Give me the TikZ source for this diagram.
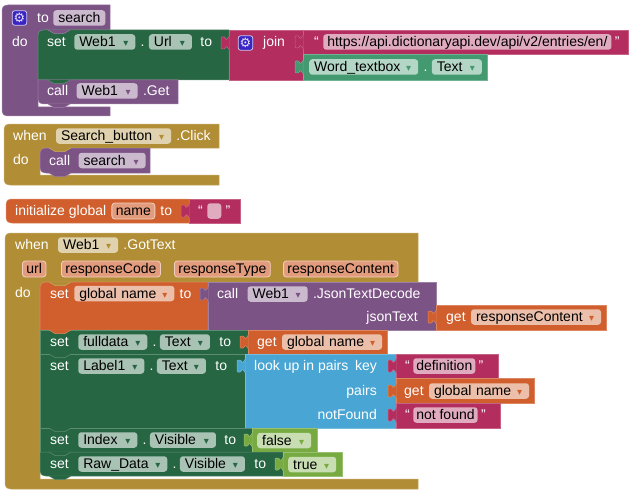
\documentclass[tikz,border=0pt]{standalone}
\usepackage{fontspec}
\usepackage{tikz}
\usetikzlibrary{positioning}
\setmainfont{Liberation Sans}
\newfontfamily\symfont{DejaVu Sans}
\definecolor{ProcPurple}{HTML}{7C5385}
\definecolor{SetGreen}{HTML}{266643}
\definecolor{GetTeal}{HTML}{439970}
\definecolor{TextPink}{HTML}{B32D5E}
\definecolor{CtrlGold}{HTML}{B18E35}
\definecolor{VarOrange}{HTML}{D05F2D}
\definecolor{ListBlue}{HTML}{49A6D4}
\definecolor{LogicLime}{HTML}{77AB41}
\definecolor{GearBlue}{HTML}{3A24C4}
\newcommand{\ddn}{\hfill{\color{ddncol}\symfont\fontsize{10}{10}\selectfont ▾}\hspace*{2pt}}
\newcommand{\jack}[3]{\draw[blk=#3,rounded corners=1pt,shift={(#1,#2)}] (0.5,-8) -- (0,-6) -- (-3,-3) -- (-4,-6) -- (-8,-6) -- (-8,6) -- (-4,6) -- (-3,3) -- (0,6) -- (0.5,8);}
\newcommand{\notch}[3]{\draw[blk=#3,shift={(#1,#2)}] (0,0) -- (6,3.5) -- (16,3.5) -- (22,0);}
\begin{document}
\begin{tikzpicture}[
      x=1pt,y=-1pt,
      font=\fontsize{14}{16}\selectfont,
      blk/.style={fill=#1,draw=#1!75!white,line width=0.5pt},
      lbl/.style={anchor=west,text=white,inner sep=0pt,text height=11.5pt,text depth=2.5pt},
      fld/.style={anchor=west,fill=#1!40!white,text=black,rounded corners=3pt,inner xsep=5pt,inner ysep=0pt,minimum height=15.5pt,text height=11.5pt,text depth=2.5pt,execute at begin node={\colorlet{ddncol}{#1}}},
      fw/.style={text width=#1pt-10pt},
      arg/.style={anchor=west,fill=VarOrange!62!white,draw=VarOrange!30!white,line width=0.8pt,text=black,rounded corners=3pt,inner xsep=4pt,inner ysep=0pt,minimum height=16pt,text height=11.5pt,text depth=2.5pt},
      gear/.style={fill=GearBlue,draw=white!75!GearBlue,line width=0.8pt,rounded corners=2.5pt,minimum size=14.5pt,inner sep=0pt,text=white!85!GearBlue,font=\symfont\fontsize{13}{13}\selectfont}
    ]
      \useasboundingbox (0,0) rectangle (639,500);
      % to search
      \draw[blk=ProcPurple] (110,5) -- (110,30) -- (43,30) .. controls (40,30) and (38,32) .. (38,35) -- (38,107) -- (110,107) -- (110,116) -- (8,116) .. controls (4,116) and (2,114) .. (2,110) -- (2,11) .. controls (2,7) and (4,5) .. (8,5) -- cycle;
      \draw[blk=SetGreen] (229,30) -- (43,30) .. controls (40,30) and (38,32) .. (38,35) -- (38,80) -- (229,80) -- cycle;
      \draw[blk=ProcPurple] (178,80) -- (38,80) -- (38,98) .. controls (38,102) and (40,104) .. (44,104) -- (178,104) -- cycle;
      \notch{48}{104}{ProcPurple}
      \notch{48}{80}{SetGreen}
      \notch{48}{30}{ProcPurple}
      \draw[blk=TextPink] (229,30) rectangle (303,80);
      \draw[blk=TextPink] (303,30) rectangle (628,54.5);
      \draw[blk=GetTeal] (303,54.5) rectangle (487,80);
      \jack{229}{43}{TextPink}
      \jack{303}{42}{TextPink}
      \jack{303}{67}{GetTeal}
      \node[gear] (procgear) at (19.5,18) {⚙};
      \node[lbl] (tolbl) at (37,18) {to};
      \node[fld=ProcPurple,right=4pt of tolbl] (procname) {search};
      \node[lbl] (dolbl) at (12,42) {do};
      \node[lbl] (setlbl) at (47,42) {set};
      \node[fld=SetGreen,fw=61,right=8pt of setlbl] (webfld) {Web1\ddn};
      \node[lbl,right=5pt of webfld] (webdot) {.};
      \node[fld=SetGreen,fw=43,right=4pt of webdot] (urlfld) {Url\ddn};
      \node[lbl,right=8pt of urlfld] (urlto) {to};
      \node[gear] (joingear) at (245.5,43) {⚙};
      \node[lbl] (joinlbl) at (263,42) {join};
      \node[lbl] (urlopen) at (314,42) {“};
      \node[fld=TextPink,inner xsep=4pt,right=4pt of urlopen] (urlstr) {https://api.dictionaryapi.dev/api/v2/entries/en/};
      \node[lbl,right=3pt of urlstr] (urlclose) {”};
      \node[fld=GetTeal,fw=109] (wordfld) at (309,67) {Word\_textbox\ddn};
      \node[lbl,right=5pt of wordfld] (worddot) {.};
      \node[fld=GetTeal,fw=50,right=4pt of worddot] (wordtext) {Text\ddn};
      \node[lbl] (calllbl) at (47,91) {call};
      \node[fld=ProcPurple,fw=61,right=8pt of calllbl] (callfld) {Web1\ddn};
      \node[lbl,right=5pt of callfld] (getlbl) {.Get};
      % when search button
      \draw[blk=CtrlGold] (219,124) -- (219,148) -- (45,148) .. controls (42,148) and (40,150) .. (40,153) -- (40,175) -- (219,175) -- (219,185) -- (10,185) .. controls (6,185) and (4,183) .. (4,179) -- (4,130) .. controls (4,126) and (6,124) .. (10,124) -- cycle;
      \draw[blk=ProcPurple] (150,148) -- (45,148) .. controls (42,148) and (40,150) .. (40,153) -- (40,167) .. controls (40,171) and (42,173) .. (46,173) -- (150,173) -- cycle;
      \notch{49}{173}{ProcPurple}
      \notch{49}{148}{CtrlGold}
      \node[lbl] (whenlbl) at (13,136) {when};
      \node[fld=CtrlGold,fw=115,right=9pt of whenlbl] (btnfld) {Search\_button\ddn};
      \node[lbl,right=5pt of btnfld] (clicklbl) {.Click};
      \node[lbl] (do2lbl) at (13,160) {do};
      \node[lbl] (call2lbl) at (49,160.5) {call};
      \node[fld=ProcPurple,fw=67,right=8pt of call2lbl] (searchfld) {search\ddn};
      % initialize global
      \draw[blk=VarOrange] (189,199) -- (189,223) -- (12,223) .. controls (8,223) and (6,221) .. (6,217) -- (6,205) .. controls (6,201) and (8,199) .. (12,199) -- cycle;
      \draw[blk=TextPink] (189,199) rectangle (240,223);
      \jack{189}{211}{TextPink}
      \node[lbl] (initlbl) at (15,211) {initialize global};
      \node[arg,right=5pt of initlbl] (namefld) {name};
      \node[lbl,right=5pt of namefld] (initto) {to};
      \node[lbl] (emptyopen) at (198,211) {“};
      \node[fld=TextPink,fw=14,right=4pt of emptyopen] (emptystr) {};
      \node[lbl,right=4pt of emptystr] (emptyclose) {”};
      % when web1 gottext
      \draw[blk=CtrlGold] (418,233) -- (418,282) -- (45,282) .. controls (42,282) and (40,284) .. (40,287) -- (40,479) -- (418,479) -- (418,489) -- (11,489) .. controls (7,489) and (5,487) .. (5,483) -- (5,239) .. controls (5,235) and (7,233) .. (11,233) -- cycle;
      \draw[blk=VarOrange] (208,282) -- (45,282) .. controls (42,282) and (40,284) .. (40,287) -- (40,330) -- (208,330) -- cycle;
      \draw[blk=ProcPurple] (208,282) rectangle (436,330);
      \draw[blk=VarOrange] (436,305) rectangle (606,330);
      \draw[blk=SetGreen] (40,330) rectangle (248,354);
      \draw[blk=VarOrange] (248,330) rectangle (387,354);
      \draw[blk=SetGreen] (40,354) rectangle (245,428);
      \draw[blk=ListBlue] (245,354) rectangle (396,428);
      \draw[blk=TextPink] (396,354) rectangle (498,378.5);
      \draw[blk=VarOrange] (396,378.5) rectangle (534,403.5);
      \draw[blk=TextPink] (396,403.5) rectangle (500,428);
      \draw[blk=SetGreen] (40,428) rectangle (252,452);
      \draw[blk=LogicLime] (252,428) rectangle (317,452);
      \draw[blk=SetGreen] (283,452) -- (40,452) -- (40,470) .. controls (40,474) and (42,476) .. (46,476) -- (283,476) -- cycle;
      \draw[blk=LogicLime] (283,452) rectangle (342,476);
      \notch{49}{476}{SetGreen}
      \notch{49}{452}{SetGreen}
      \notch{49}{428}{SetGreen}
      \notch{49}{354}{SetGreen}
      \notch{49}{330}{VarOrange}
      \notch{49}{282}{CtrlGold}
      \jack{208}{294}{ProcPurple}
      \jack{436}{317}{VarOrange}
      \jack{248}{342}{VarOrange}
      \jack{245}{366}{ListBlue}
      \jack{396}{366}{TextPink}
      \jack{396}{391}{VarOrange}
      \jack{396}{415}{TextPink}
      \jack{252}{440}{LogicLime}
      \jack{283}{464}{LogicLime}
      \node[lbl] (when3lbl) at (15,245) {when};
      \node[fld=CtrlGold,fw=60,right=9pt of when3lbl] (web3fld) {Web1\ddn};
      \node[lbl,right=5pt of web3fld] (gottext) {.GotText};
      \node[arg] (urlarg) at (22,269) {url};
      \node[arg] (codearg) at (61,269) {responseCode};
      \node[arg] (typearg) at (174,269) {responseType};
      \node[arg] (contentarg) at (283,269) {responseContent};
      \node[lbl] (do3lbl) at (15,293) {do};
      \node[lbl] (setglobal) at (50,293.5) {set};
      \node[fld=VarOrange,fw=100,right=5pt of setglobal] (globalfld) {global name\ddn};
      \node[lbl,right=5pt of globalfld] (globalto) {to};
      \node[lbl] (call3lbl) at (217,294) {call};
      \node[fld=ProcPurple,fw=60,right=9pt of call3lbl] (jsonfld) {Web1\ddn};
      \node[lbl,right=5pt of jsonfld] (jsonlbl) {.JsonTextDecode};
      \node[lbl,anchor=east] (jsontext) at (418,317) {jsonText};
      \node[lbl] (getcontent) at (446,317) {get};
      \node[fld=VarOrange,fw=130,right=5pt of getcontent] (contentfld) {responseContent\ddn};
      \node[lbl] (setfull) at (50,342) {set};
      \node[fld=SetGreen,fw=69,right=9pt of setfull] (fullfld) {fulldata\ddn};
      \node[lbl,right=5pt of fullfld] (fulldot) {.};
      \node[fld=SetGreen,fw=50,right=3pt of fulldot] (fulltext) {Text\ddn};
      \node[lbl,right=9pt of fulltext] (fullto) {to};
      \node[lbl] (getglobal) at (257,342) {get};
      \node[fld=VarOrange,fw=100,right=5pt of getglobal] (globalfld2) {global name\ddn};
      \node[lbl] (setlabel) at (50,366) {set};
      \node[fld=SetGreen,fw=66,right=9pt of setlabel] (labelfld) {Label1\ddn};
      \node[lbl,right=5pt of labelfld] (labeldot) {.};
      \node[fld=SetGreen,fw=49,right=3pt of labeldot] (labeltext) {Text\ddn};
      \node[lbl,right=9pt of labeltext] (labelto) {to};
      \node[lbl] (lookup) at (254,366) {look up in pairs};
      \node[lbl,anchor=east] (keylbl) at (377,366) {key};
      \node[lbl,anchor=east] (pairslbl) at (377,391) {pairs};
      \node[lbl,anchor=east] (notfoundlbl) at (377,415) {notFound};
      \node[lbl] (defopen) at (405,366) {“};
      \node[fld=TextPink,inner xsep=3pt,right=3pt of defopen] (defstr) {definition};
      \node[lbl,right=3pt of defstr] (defclose) {”};
      \node[lbl] (getpairs) at (404,391) {get};
      \node[fld=VarOrange,fw=100,right=5pt of getpairs] (globalfld3) {global name\ddn};
      \node[lbl] (nfopen) at (405,415) {“};
      \node[fld=TextPink,inner xsep=3pt,right=3pt of nfopen] (nfstr) {not found};
      \node[lbl,right=3pt of nfstr] (nfclose) {”};
      \node[lbl] (setindex) at (50,440) {set};
      \node[fld=SetGreen,fw=59,right=9pt of setindex] (indexfld) {Index\ddn};
      \node[lbl,right=5pt of indexfld] (indexdot) {.};
      \node[fld=SetGreen,fw=66,right=3pt of indexdot] (indexvis) {Visible\ddn};
      \node[lbl,right=8pt of indexvis] (indexto) {to};
      \node[fld=LogicLime,fw=54] (falsefld) at (257,440.5) {false\ddn};
      \node[lbl] (setraw) at (50,464) {set};
      \node[fld=SetGreen,fw=89,right=9pt of setraw] (rawfld) {Raw\_Data\ddn};
      \node[lbl,right=5pt of rawfld] (rawdot) {.};
      \node[fld=SetGreen,fw=65,right=3pt of rawdot] (rawvis) {Visible\ddn};
      \node[lbl,right=9pt of rawvis] (rawto) {to};
      \node[fld=LogicLime,fw=48] (truefld) at (288,464.5) {true\ddn};
    \end{tikzpicture}
\end{document}
